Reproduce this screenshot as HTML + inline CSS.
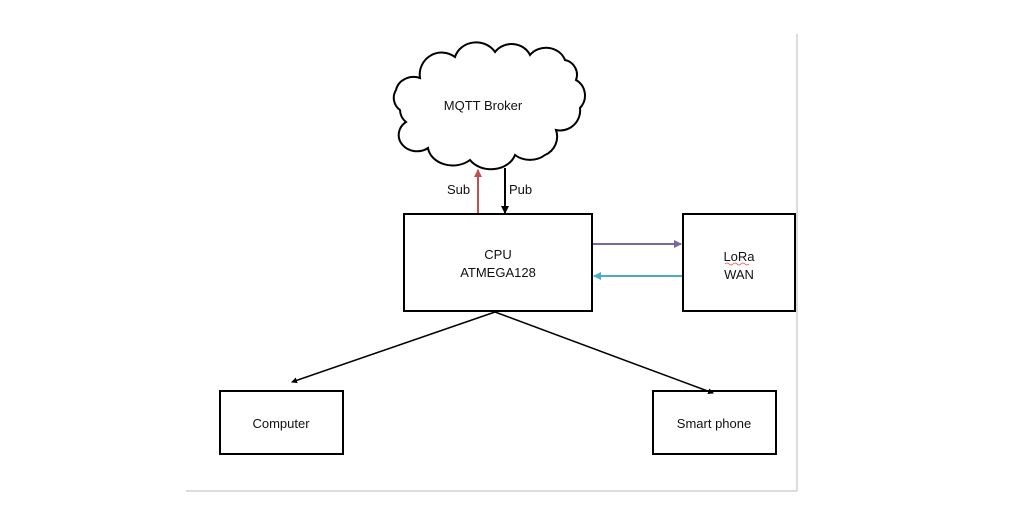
<!DOCTYPE html>
<html><head><style>
html,body{margin:0;padding:0;background:#fff;}
svg{display:block}
text{font-family:"Liberation Sans",sans-serif;font-size:13px;fill:#111}
</style></head><body>
<svg width="1031" height="507" viewBox="0 0 1031 507">
<defs>
<marker id="ab" markerWidth="8" markerHeight="8" refX="7" refY="4" orient="auto" markerUnits="userSpaceOnUse"><path d="M0,0 L8,4 L0,8 Z" fill="#000"/></marker>
<marker id="ar" markerWidth="8" markerHeight="8" refX="7" refY="4" orient="auto" markerUnits="userSpaceOnUse"><path d="M0,0 L8,4 L0,8 Z" fill="#c0504d"/></marker>
<marker id="ap" markerWidth="8" markerHeight="8" refX="7" refY="4" orient="auto" markerUnits="userSpaceOnUse"><path d="M0,0 L8,4 L0,8 Z" fill="#8064a2"/></marker>
<marker id="ac" markerWidth="8" markerHeight="8" refX="7" refY="4" orient="auto" markerUnits="userSpaceOnUse"><path d="M0,0 L8,4 L0,8 Z" fill="#4bacc6"/></marker>
<marker id="as" markerWidth="6" markerHeight="6" refX="5" refY="3" orient="auto" markerUnits="userSpaceOnUse"><path d="M0,0 L6,3 L0,6 Z" fill="#000"/></marker>
</defs>
<line x1="797" y1="34" x2="797" y2="491" stroke="#d0d0d0" stroke-width="1.5"/>
<line x1="186" y1="491" x2="797" y2="491" stroke="#d0d0d0" stroke-width="1.5"/>
<path d="M420,78 A22,22 0 0 1 455,57 A22,20 0 0 1 495,52 A20,18 0 0 1 530,55 A20,18 0 0 1 565,60 A15,15 0 0 1 576,80 A18,18 0 0 1 580,108 A20,20 0 0 1 556,130 A20,20 0 0 1 545,155 A22,18 0 0 1 515,155 A25,20 0 0 1 470,160 A25,20 0 0 1 428,148 A18,16 0 0 1 406,122 A16,16 0 0 1 400,110 A15,15 0 0 1 396,90 A18,16 0 0 1 420,78 Z" fill="#fff" stroke="#000" stroke-width="2"/>
<text x="483" y="110" text-anchor="middle">MQTT Broker</text>
<rect x="404" y="214" width="188" height="97" fill="none" stroke="#000" stroke-width="2"/>
<text x="498" y="259" text-anchor="middle">CPU</text>
<text x="498" y="277" text-anchor="middle">ATMEGA128</text>
<rect x="683" y="214" width="112" height="97" fill="none" stroke="#000" stroke-width="2"/>
<text x="739" y="261" text-anchor="middle">LoRa</text>
<path d="M725,264 q2,-2 4,0 t4,0 t4,0 t4,0 t4,0 t4,0" fill="none" stroke="#e05050" stroke-width="0.8"/>
<text x="739" y="279" text-anchor="middle">WAN</text>
<rect x="220" y="391" width="123" height="63" fill="none" stroke="#000" stroke-width="2"/>
<text x="281" y="428" text-anchor="middle">Computer</text>
<rect x="653" y="391" width="123" height="63" fill="none" stroke="#000" stroke-width="2"/>
<text x="714" y="428" text-anchor="middle">Smart phone</text>
<line x1="478" y1="213" x2="478" y2="170" stroke="#c0504d" stroke-width="2" marker-end="url(#ar)"/>
<line x1="505" y1="168" x2="505" y2="213" stroke="#000" stroke-width="2" marker-end="url(#ab)"/>
<text x="447" y="194">Sub</text>
<text x="509" y="194">Pub</text>
<line x1="593" y1="244" x2="681" y2="244" stroke="#8064a2" stroke-width="2" marker-end="url(#ap)"/>
<line x1="682" y1="276" x2="594" y2="276" stroke="#4bacc6" stroke-width="2" marker-end="url(#ac)"/>
<line x1="495" y1="312" x2="292" y2="382" stroke="#000" stroke-width="1.5" marker-end="url(#as)"/>
<line x1="495" y1="312" x2="713" y2="393" stroke="#000" stroke-width="1.5" marker-end="url(#as)"/>
</svg>
</body></html>
